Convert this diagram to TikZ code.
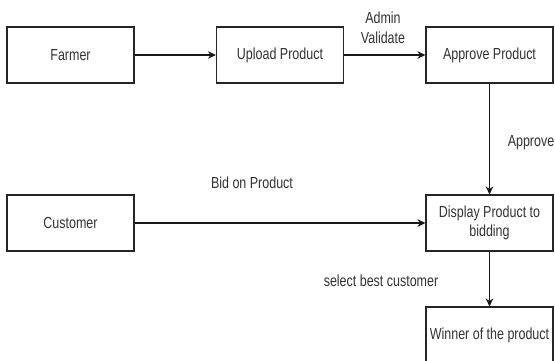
\documentclass[tikz,border=0pt]{standalone}
\usepackage{fontspec}
\setmainfont{Liberation Sans}[FakeStretch=0.78]
\usetikzlibrary{arrows.meta}
\begin{document}
\begin{tikzpicture}[x=1pt,y=-1pt,
  box/.style={draw=black!85, line width=1.1pt, minimum width=127pt, minimum height=56pt,
    inner sep=0pt, align=center, text=black!80, font=\fontsize{16}{19}\selectfont},
  lbl/.style={align=center, inner sep=0pt, text=black!80, font=\fontsize{16}{20}\selectfont},
  arr/.style={-{Stealth[length=8pt,width=7.5pt]}, line width=1.1pt, draw=black!90}]
\useasboundingbox (0,0) rectangle (555,360);
\clip (0,0) rectangle (555,360);
\fill[white] (0,0) rectangle (555,360);
\node[box] (farmer)   at (70.5,55)  {Farmer};
\node[box] (upload)   at (280,55)   {Upload Product};
\node[box] (approve)  at (489.5,55) {Approve Product};
\node[box] (customer) at (70.5,223) {Customer};
\node[box] (display)  at (489.5,223) {Display Product to\\bidding};
\node[box] (winner)   at (489.5,335) {Winner of the product};
\draw[arr] (farmer) -- (upload);
\draw[arr] (upload) -- (approve);
\draw[arr] (approve) -- (display);
\draw[arr] (customer) -- (display);
\draw[arr] (display) -- (winner);
\node[lbl] (l1) at (383,28)  {Admin\\Validate};
\node[lbl] (l2) at (531,143) {Approve};
\node[lbl] (l3) at (252,183) {Bid on Product};
\node[lbl] (l4) at (381,281) {select best customer};
\end{tikzpicture}
\end{document}
